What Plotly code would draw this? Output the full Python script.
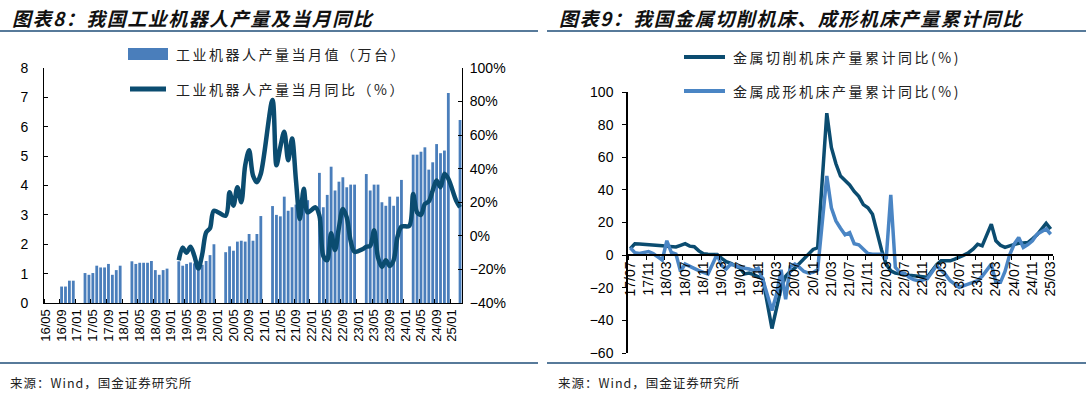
import plotly.graph_objects as go

W, H = 1086, 395


def month_range(y, m, n):
    out = []
    for _ in range(n):
        out.append(f"{y % 100:02d}/{m:02d}")
        m += 1
        if m > 12:
            m = 1
            y += 1
    return out


# ---------------- Left chart: industrial robots ----------------
robot_months = month_range(2016, 5, 107)  # 16/05 .. 25/03

robot_output = (
    [None, None, None, None, 0.56, 0.56, 0.76, 0.76]                              # 2016/05-12
    + [None, None, 1.02, 0.96, 1.02, 1.27, 1.21, 1.21, 1.33, 0.96, 1.12, 1.27]  # 2017
    + [None, None, 1.42, 1.33, 1.37, 1.37, 1.37, 1.43, 1.12, 0.96, 1.12, 1.17]  # 2018
    + [None, None, 1.42, 1.27, 1.33, 1.38, 1.35, 1.20, 1.30, 1.43, 1.63, 2.00]  # 2019
    + [None, None, 1.73, 1.93, 1.78, 2.09, 2.12, 2.09, 2.35, 2.12, 2.35, 2.96]  # 2020
    + [None, None, 3.30, 3.00, 2.95, 3.62, 3.14, 3.26, 3.35, 3.20, 3.45, 3.50]  # 2021
    + [None, None, 4.43, 3.26, 3.68, 4.64, 3.83, 4.13, 4.28, 3.94, 4.03, 4.03]  # 2022
    + [None, None, 4.39, 3.83, 4.03, 4.03, 3.43, 3.31, 3.62, 3.31, 3.62, 4.19]  # 2023
    + [None, None, 5.05, 5.05, 5.15, 5.30, 4.54, 4.79, 5.41, 5.10, 5.19, 7.15]  # 2024
    + [None, None, 6.23]                                                          # 2025/01-03
)

robot_yoy = (
    [None] * 8                                                                    # 2016/05-12
    + [None] * 12                                                                 # 2017
    + [None] * 12                                                                 # 2018
    + [None, None, -14.5, -7, -10, -6.5, -12, -19.5, -11, 2, 4.5, 15]            # 2019
    + [None, None, 12, 26, 18, 29, 20, 42, 51, 36, 32, 37]                       # 2020
    + [None, None, 81, 42, 53, 62, 45, 58, 33, 10, 28, 14]                       # 2021
    + [None, 17, 12, -12, -14.5, 1.5, -8.5, 5, 16, 11, -3, -9.5]                 # 2022
    + [None, -8, -6.5, -6, 3.4, -13, -18.5, -14.5, -18, -14.5, -0.5, 5.5]        # 2023
    + [None, 6, 25, 14, 12.5, 19, 20.5, 27, 33, 29, 37, 34]                      # 2024
    + [None, 21, 17]                                                              # 2025/01-03
)

robot_tick_labels = robot_months[::4]

# ---------------- Right chart: machine tools ----------------
tool_months = month_range(2017, 7, 93)  # 17/07 .. 25/03

cutting_yoy = (
    [4, 7, 6.8, 6.7, 6.5, 6.2]                                                   # 2017/07-12
    + [None, 5.8, 5.5, 5.3, 5, 6, 7, 5.5, 5.2, 2.6, 0.8, 0.6]                    # 2018
    + [None, 0.4, -2, -4, -5, -6.5, -8, -11.5, -11, -12, -13, -14.5]             # 2019
    + [None, -45, -32, -20, -13, -10, -8, -5, -2, 1, 3.5, 4.5]                   # 2020
    + [None, 87, 66, 56, 48.5, 45.4, 43, 39, 36, 31, 29, 25]                     # 2021
    + [None, 3, -5.5, -9.6, -11, -11.6, -12, -12.3, -12.6, -13, -13.6, -13.5]    # 2022
    + [None, -6, -3.5, -3.5, -3.5, -2.5, -1.4, 0, 1.5, 3.7, 6.7, 5.7]            # 2023
    + [None, 19, 8.8, 6, 4.7, 5.7, 6.7, 7.3, 7.5, 7.7, 10, 12.5]                 # 2024
    + [None, 19.5, 16]                                                            # 2025/01-03
)

forming_yoy = (
    [4.5, 1.5, 1, 1.5, 2.2, 1]                                                   # 2017/07-12
    + [None, -3, 8.8, 1.6, 0.6, -10, -5.5, -7, -8.5, -9.5, -10.6, -11.6]         # 2018
    + [None, 0.5, -6.5, -8.5, -5.5, -6.5, -7.5, -8, -8.5, -9.5, -8, -15]         # 2019
    + [None, -34, -24, -9, -27, -7, -5.5, -7.5, -10, -11, -10.6, -9]             # 2020
    + [None, 48.5, 29, 21, 16.5, 12.5, 13.8, 7, 6.3, 3.7, 1, 0.6]                # 2021
    + [None, 0.5, -2.4, 37, -7.5, -10.6, -11, -13.6, -15, -15.7, -15.3, -14.5]   # 2022
    + [None, -6.5, -9, -12, -15.7, -18, -19.8, -18.7, -17.5, -16.7, -15.7, -13]  # 2023
    + [None, -5.5, -16.7, -16.7, -10, 0, 6.7, 10.8, 4.7, 6.5, 8.8, 12.8]         # 2024
    + [None, 16, 12.8]                                                            # 2025/01-03
)

tool_tick_labels = tool_months[::4]

# ---------------- colours / fonts ----------------
BAR_BLUE = "#4a7ebb"
DARK_LINE = "#0b4c70"
LIGHT_LINE = "#4a85c4"
RULE = "#1f4e79"
NUM_FONT = "Liberation Sans, Arial, sans-serif"
CJK_FONT = "Noto Sans CJK SC, sans-serif"


def fx(p):
    return p / W


def fy(p):
    return 1 - p / H


fig = go.Figure()

xl = list(range(len(robot_months)))
xr = list(range(len(tool_months)))

fig.add_trace(go.Bar(
    x=xl, y=robot_output, xaxis="x", yaxis="y",
    marker=dict(color=BAR_BLUE, line=dict(width=0)), width=0.72,
    name="工业机器人产量当月值（万台）", hoverinfo="skip",
))
fig.add_trace(go.Scatter(
    x=xl, y=robot_yoy, xaxis="x", yaxis="y2", mode="lines",
    line=dict(color=DARK_LINE, width=4.5, shape="spline", smoothing=0.9),
    connectgaps=True, name="工业机器人产量当月同比（%）", hoverinfo="skip",
))
fig.add_trace(go.Scatter(
    x=xr, y=cutting_yoy, xaxis="x3", yaxis="y3", mode="lines",
    line=dict(color=DARK_LINE, width=3.5), connectgaps=True,
    name="金属切削机床产量累计同比(%)", hoverinfo="skip",
))
fig.add_trace(go.Scatter(
    x=xr, y=forming_yoy, xaxis="x3", yaxis="y3", mode="lines",
    line=dict(color=LIGHT_LINE, width=3.5), connectgaps=True,
    name="金属成形机床产量累计同比(%)", hoverinfo="skip",
))

tick_font = dict(family=NUM_FONT, size=14, color="black")

L_X0, L_X1, L_Y0, L_Y1 = 44, 462, 68, 303
R_X0, R_X1, R_Y0, R_Y1 = 628, 1053, 92, 353
R_ZERO = R_Y0 + (100 / 160) * (R_Y1 - R_Y0)

fig.update_layout(
    width=W, height=H, margin=dict(l=0, r=0, t=0, b=0, autoexpand=False),
    paper_bgcolor="white", plot_bgcolor="rgba(0,0,0,0)",
    showlegend=False,
    xaxis=dict(
        domain=[fx(L_X0), fx(L_X1)], anchor="y", range=[-0.5, len(robot_months) - 0.5],
        tickmode="array", tickvals=xl[::4], ticktext=robot_tick_labels, automargin=False,
        tickangle=-90, ticks="", showline=True, linecolor="black", linewidth=1,
        showgrid=False, zeroline=False, tickfont=dict(family=NUM_FONT, size=13, color="black"),
        minor=dict(tickmode="array", tickvals=[v - 0.5 for v in xl[::4]] + [len(robot_months) - 0.5],
                   ticks="inside", ticklen=4, tickcolor="black", showgrid=False),
    ),
    yaxis=dict(
        domain=[fy(L_Y1), fy(L_Y0)], anchor="x", range=[0, 8], dtick=1, automargin=False,
        ticks="inside", ticklen=4, tickcolor="black", showline=True, linecolor="black",
        linewidth=1, showgrid=False, zeroline=False, tickfont=tick_font, ticklabelstandoff=12,
    ),
    yaxis2=dict(
        overlaying="y", side="right", anchor="x", range=[-40, 100], dtick=20, ticksuffix="%",
        ticks="inside", ticklen=4, tickcolor="black", showline=True, linecolor="black",
        automargin=False,
        linewidth=1, showgrid=False, zeroline=False, tickfont=tick_font, ticklabelstandoff=4,
    ),
    xaxis3=dict(
        domain=[fx(R_X0), fx(R_X1)], anchor="free", position=fy(R_ZERO),
        range=[-0.5, len(tool_months) - 0.5], automargin=False,
        tickmode="array", tickvals=xr[::4], ticktext=tool_tick_labels,
        tickangle=-90, ticks="", showline=True, linecolor="black", linewidth=1.5,
        showgrid=False, zeroline=False, tickfont=dict(family=NUM_FONT, size=14, color="black"),
        minor=dict(tickmode="array", tickvals=[v - 0.5 for v in xr[::4]] + [len(tool_months) - 0.5],
                   ticks="outside", ticklen=4, tickcolor="black", showgrid=False),
    ),
    yaxis3=dict(
        domain=[fy(R_Y1), fy(R_Y0)], anchor="x3", range=[-60, 100], dtick=20, automargin=False,
        ticks="outside", ticklen=4, tickcolor="black", showline=True, linecolor="black",
        linewidth=1.5, showgrid=False, zeroline=False, tickfont=tick_font, ticklabelstandoff=6,
    ),
)

shapes = []
annotations = []

# title rules and source rules
for y in (31, 363):
    shapes.append(dict(type="line", xref="paper", yref="paper", x0=0, x1=fx(538),
                       y0=fy(y), y1=fy(y), line=dict(color=RULE, width=1.5)))
    shapes.append(dict(type="line", xref="paper", yref="paper", x0=fx(547), x1=1,
                       y0=fy(y), y1=fy(y), line=dict(color=RULE, width=1.5)))

# titles
for x, t in ((10, "图表8：我国工业机器人产量及当月同比"),
             (557, "图表9：我国金属切削机床、成形机床产量累计同比")):
    annotations.append(dict(
        xref="paper", yref="paper", x=fx(x), y=fy(17), xanchor="left", yanchor="middle",
        text=f'<span style="letter-spacing:1.5px">{t}</span>', showarrow=False,
        font=dict(family=CJK_FONT, size=19, color="#111111", weight=700, style="italic"),
    ))

# sources
for x in (8, 556):
    annotations.append(dict(
        xref="paper", yref="paper", x=fx(x), y=fy(382), xanchor="left", yanchor="middle",
        text='<span style="letter-spacing:1px">来源：Wind，国金证券研究所</span>', showarrow=False,
        font=dict(family=CJK_FONT, size=12.5, color="#222222"),
    ))

# left legend
shapes.append(dict(type="rect", xref="paper", yref="paper", x0=fx(128), x1=fx(168),
                   y0=fy(60), y1=fy(48), fillcolor=BAR_BLUE, line=dict(width=0)))
shapes.append(dict(type="line", xref="paper", yref="paper", x0=fx(130), x1=fx(166),
                   y0=fy(89), y1=fy(89), line=dict(color=DARK_LINE, width=5)))
for y, t in ((54, "工业机器人产量当月值（万台）"), (89, "工业机器人产量当月同比（%）")):
    annotations.append(dict(
        xref="paper", yref="paper", x=fx(174), y=fy(y), xanchor="left", yanchor="middle",
        text=f'<span style="letter-spacing:2.5px">{t}</span>', showarrow=False,
        font=dict(family=CJK_FONT, size=14, color="#222222"),
    ))

# right legend
for y, c, t in ((57, DARK_LINE, "金属切削机床产量累计同比(%)"),
                (91, LIGHT_LINE, "金属成形机床产量累计同比(%)")):
    shapes.append(dict(type="line", xref="paper", yref="paper", x0=fx(684), x1=fx(725),
                       y0=fy(y), y1=fy(y), line=dict(color=c, width=4)))
    annotations.append(dict(
        xref="paper", yref="paper", x=fx(731), y=fy(y), xanchor="left", yanchor="middle",
        text=f'<span style="letter-spacing:2.5px">{t}</span>', showarrow=False,
        font=dict(family=CJK_FONT, size=14, color="#222222"),
    ))

fig.update_layout(shapes=shapes, annotations=annotations)

fig.write_html("out.html", config={"displayModeBar": False},
               post_script="document.body.style.margin='0px';")
